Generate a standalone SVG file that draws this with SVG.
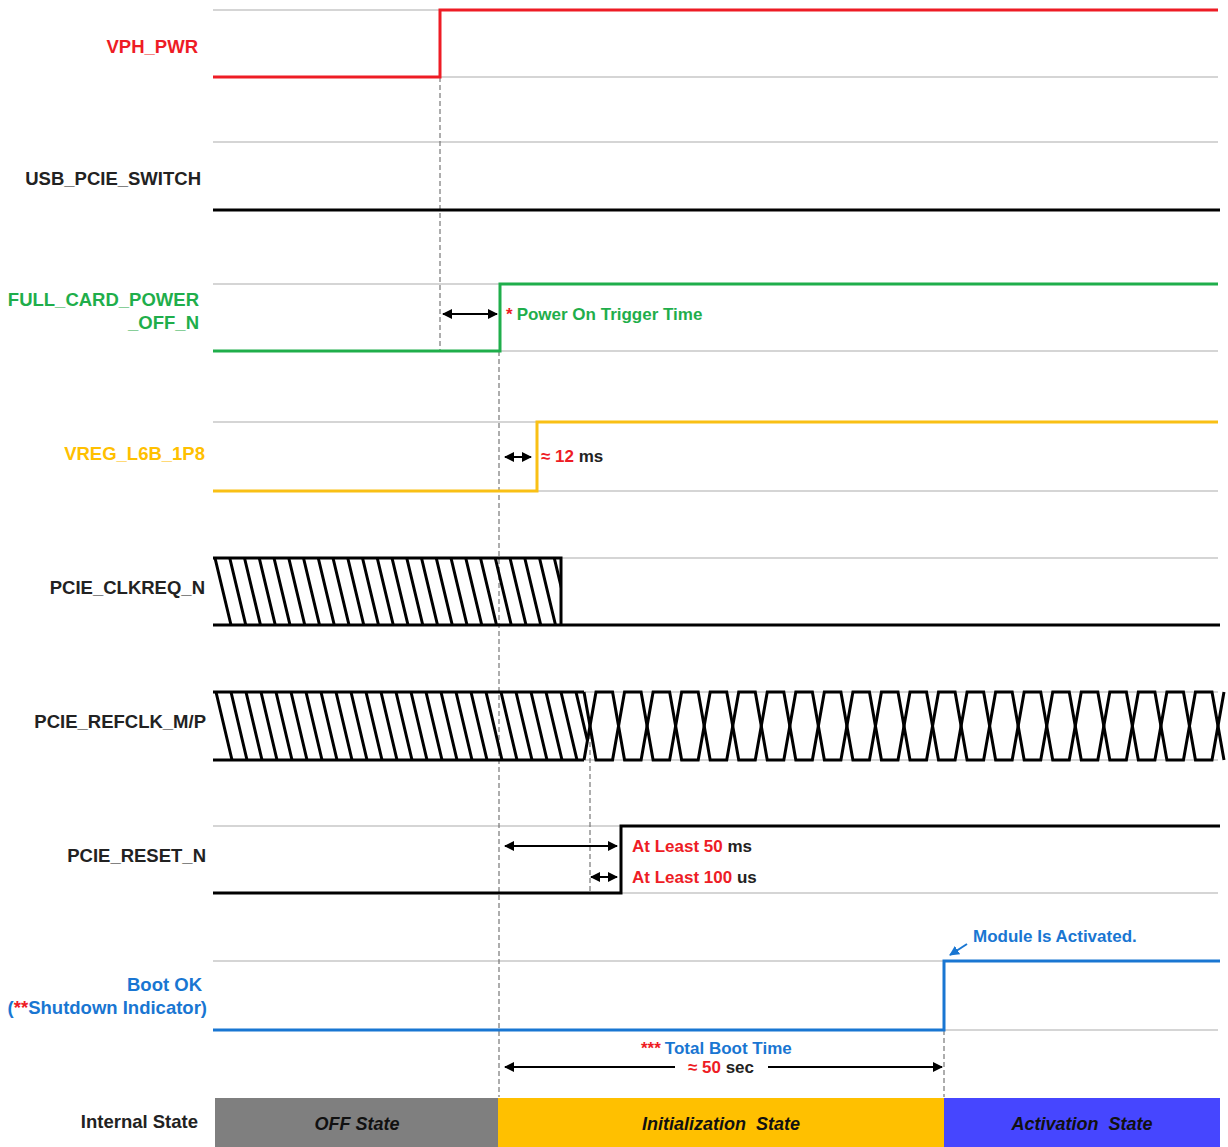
<svg xmlns="http://www.w3.org/2000/svg" width="1228" height="1147" viewBox="0 0 1228 1147">
<defs>
<style>
.lbl{font-family:"Liberation Sans",Arial,sans-serif;font-weight:bold;font-size:18.5px;text-anchor:end}
.ann{font-family:"Liberation Sans",Arial,sans-serif;font-weight:bold;font-size:17px}
.st{font-family:"Liberation Sans",Arial,sans-serif;font-weight:bold;font-style:italic;font-size:18px;text-anchor:middle;fill:#111}
.grid{stroke:#c8c8c8;stroke-width:1.5;fill:none}
.sig{fill:none;stroke-width:3;stroke-linejoin:miter}
.blk{fill:none;stroke:#000;stroke-width:3}
.dash{stroke:#777;stroke-width:1.2;stroke-dasharray:5 3;fill:none}
.arr{stroke:#000;stroke-width:2;fill:none;marker-start:url(#ah);marker-end:url(#ah)}
.red{fill:#ee1c25}.grn{fill:#1fae4b}.yel{fill:#ffc000}.blu{fill:#1976d2}.dk{fill:#222}
</style>
<marker id="ah" viewBox="0 0 10 10" refX="9" refY="5" markerWidth="5" markerHeight="5" orient="auto-start-reverse" markerUnits="strokeWidth">
<path d="M0 0 L10 5 L0 10 z" fill="#000"/>
</marker>
<marker id="ahb" viewBox="0 0 10 10" refX="9" refY="5" markerWidth="5" markerHeight="5" orient="auto" markerUnits="strokeWidth">
<path d="M0 0 L10 5 L0 10 z" fill="#1976d2"/>
</marker>
<clipPath id="clk"><rect x="213" y="550" width="348" height="80"/></clipPath>
<clipPath id="ref"><polygon points="213,685 584,685 590,726 584,767 213,767"/></clipPath>
</defs>
<rect width="1228" height="1147" fill="#fff"/>

<g id="grid">
<path class="grid" d="M213 10H1218M213 77H1218M213 142H1218M213 284H1218M213 351H1218M213 422H1218M213 491H1218M213 558H1218M213 625H1218M213 692H1218M213 760H1218M213 826H1218M213 893H1218M213 961H1218M213 1030H1218"/>
</g>

<g id="guides">
<path class="dash" d="M440 77V351M499 351V1097M590 726V893M944 1030V1097"/>
</g>

<g id="sig-vph">
<text class="lbl red" x="198" y="53">VPH_PWR</text>
<path class="sig" stroke="#ee1c25" d="M213 77H440V10H1218"/>
</g>

<g id="sig-usb">
<text class="lbl dk" x="201" y="185">USB_PCIE_SWITCH</text>
<path class="blk" d="M213 210H1220"/>
</g>

<g id="sig-fcp">
<text class="lbl grn" x="199" y="306">FULL_CARD_POWER</text>
<text class="lbl grn" x="199" y="329">_OFF_N</text>
<path class="sig" stroke="#1fae4b" d="M213 351H500V284H1218"/>
</g>

<g id="sig-vreg">
<text class="lbl yel" x="205" y="460">VREG_L6B_1P8</text>
<path class="sig" stroke="#f9c015" d="M213 491H537V422H1218"/>
</g>

<g id="sig-clkreq">
<text class="lbl dk" x="205" y="594">PCIE_CLKREQ_N</text>
<path class="blk" d="M213 558H561V625M213 625H1220"/>
<path class="blk" clip-path="url(#clk)" d="M215 558l16 67M229.75 558l16 67M244.5 558l16 67M259.25 558l16 67M274 558l16 67M288.75 558l16 67M303.5 558l16 67M318.25 558l16 67M333 558l16 67M347.75 558l16 67M362.5 558l16 67M377.25 558l16 67M392 558l16 67M406.75 558l16 67M421.5 558l16 67M436.25 558l16 67M451 558l16 67M465.75 558l16 67M480.5 558l16 67M495.25 558l16 67M510 558l16 67M524.75 558l16 67M539.5 558l16 67M554.25 558l16 67"/>
</g>

<g id="sig-refclk">
<text class="lbl dk" x="206" y="728">PCIE_REFCLK_M/P</text>
<path class="blk" d="M213 692H584M213 760H584"/>
<path class="blk" clip-path="url(#ref)" d="M216 692l16 68M231 692l16 68M246 692l16 68M261 692l16 68M276 692l16 68M291 692l16 68M306 692l16 68M321 692l16 68M336 692l16 68M351 692l16 68M366 692l16 68M381 692l16 68M396 692l16 68M411 692l16 68M426 692l16 68M441 692l16 68M456 692l16 68M471 692l16 68M486 692l16 68M501 692l16 68M516 692l16 68M531 692l16 68M546 692l16 68M561 692l16 68M576 692l16 68"/>
<path class="blk" d="M584 692l12 68h16.545l12 -68h16.545l12 68h16.545l12 -68h16.545l12 68h16.545l12 -68h16.545l12 68h16.545l12 -68h16.545l12 68h16.545l12 -68h16.545l12 68h16.545l12 -68h16.545l12 68h16.545l12 -68h16.545l12 68h16.545l12 -68h16.545l12 68h16.545l12 -68h16.545l12 68h16.545l12 -68h16.545l12 68h16.545l12 -68h16.545l12 68"/>
<path class="blk" d="M584 760l12 -68h16.545l12 68h16.545l12 -68h16.545l12 68h16.545l12 -68h16.545l12 68h16.545l12 -68h16.545l12 68h16.545l12 -68h16.545l12 68h16.545l12 -68h16.545l12 68h16.545l12 -68h16.545l12 68h16.545l12 -68h16.545l12 68h16.545l12 -68h16.545l12 68h16.545l12 -68h16.545l12 68h16.545l12 -68h16.545l12 68h16.545l12 -68"/>
</g>

<g id="sig-reset">
<text class="lbl dk" x="206" y="862">PCIE_RESET_N</text>
<path class="blk" d="M213 893H621V826H1220"/>
</g>

<g id="sig-bootok">
<text class="lbl blu" x="202" y="991">Boot OK</text>
<text class="lbl blu" x="207" y="1014"><tspan>(</tspan><tspan class="red">**</tspan><tspan>Shutdown Indicator)</tspan></text>
<path class="sig" stroke="#1976d2" d="M213 1030H944V961H1220"/>
</g>

<g id="internal-state">
<text class="lbl dk" x="198" y="1128">Internal State</text>
<rect x="215" y="1098" width="283" height="49" fill="#7f7f7f"/>
<rect x="498" y="1098" width="446" height="49" fill="#ffc000"/>
<rect x="944" y="1098" width="276" height="49" fill="#4646ff"/>
<text class="st" x="357" y="1130">OFF State</text>
<text class="st" x="721" y="1130" xml:space="preserve">Initialization  State</text>
<text class="st" x="1082" y="1130" xml:space="preserve">Activation  State</text>
</g>

<g id="connectors">
<path class="arr" d="M443 314H497"/>
<path class="arr" d="M505 457H531"/>
<path class="arr" d="M505 846H617"/>
<path class="arr" d="M591 877H617"/>
<path class="arr" d="M505 1067H675" style="marker-end:none"/>
<path class="arr" d="M768 1067H942" style="marker-start:none"/>
<path d="M967 944L950 955" stroke="#1976d2" stroke-width="2" fill="none" marker-end="url(#ahb)"/>
</g>

<g id="annotations">
<text class="ann" x="506" y="320"><tspan class="red">*</tspan><tspan class="grn" dx="4">Power On Trigger Time</tspan></text>
<text class="ann" x="541" y="462"><tspan class="red">≈ 12</tspan><tspan class="dk"> ms</tspan></text>
<text class="ann" x="632" y="852"><tspan class="red">At Least 50</tspan><tspan class="dk"> ms</tspan></text>
<text class="ann" x="632" y="883"><tspan class="red">At Least 100</tspan><tspan class="dk"> us</tspan></text>
<text class="ann blu" x="973" y="942">Module Is Activated.</text>
<text class="ann" x="641" y="1054"><tspan class="red">***</tspan><tspan class="blu" dx="4">Total Boot Time</tspan></text>
<text class="ann" x="721" y="1073" text-anchor="middle"><tspan class="red">≈ 50</tspan><tspan class="dk"> sec</tspan></text>
</g>
</svg>
